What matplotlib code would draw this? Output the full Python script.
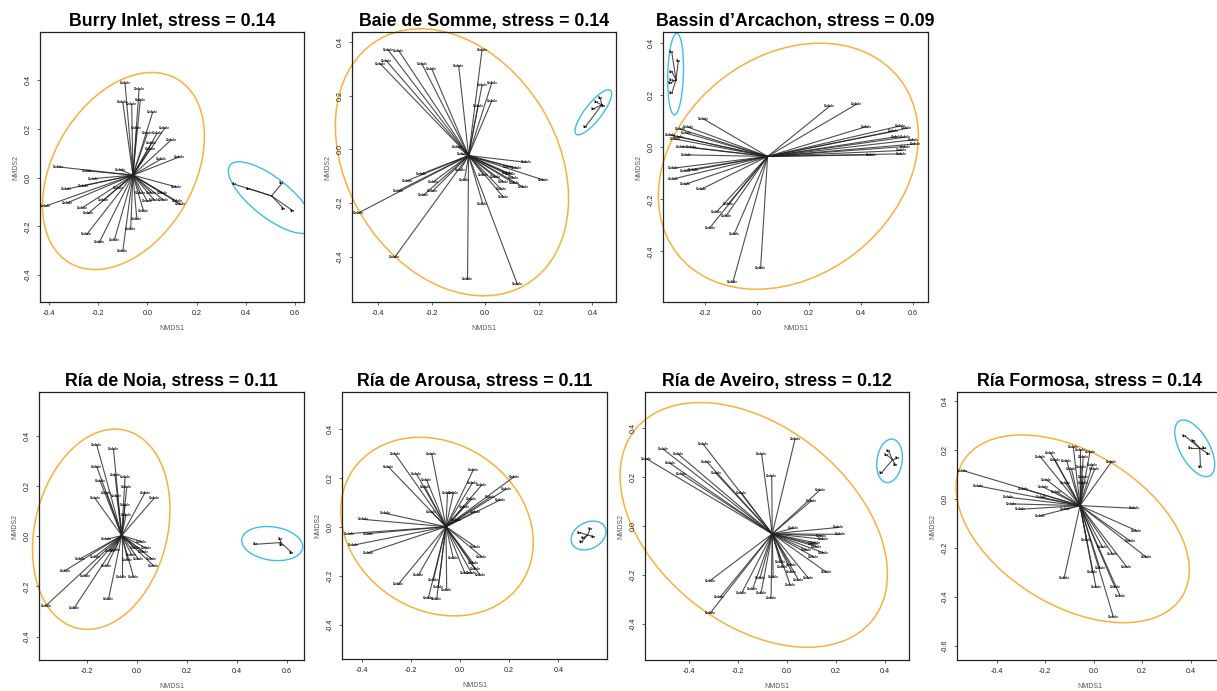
import numpy as np
import matplotlib
matplotlib.use("Agg")
import matplotlib.pyplot as plt
from matplotlib.patches import Ellipse
from matplotlib.ticker import FormatStrFormatter

plt.rcParams['font.family'] = ['Liberation Sans', 'DejaVu Sans']
plt.rcParams['axes.unicode_minus'] = False

titles = ["Burry Inlet, stress = 0.14", "Baie de Somme, stress = 0.14",
          "Bassin d\u2019Arcachon, stress = 0.09", "R\u00eda de Noia, stress = 0.11",
          "R\u00eda de Arousa, stress = 0.11", "R\u00eda de Aveiro, stress = 0.12",
          "R\u00eda Formosa, stress = 0.14"]
ced_label = "Cedule"
scr_label = "Scr"

# NMDS site scores, cockle group (orange)
ced_burry = [(-0.091, 0.386), (-0.034, 0.362), (-0.100, 0.308), (-0.064, 0.300), (-0.029, 0.318),
             (0.021, 0.267), (-0.043, 0.204), (0.071, 0.204), (0.0, 0.181), (0.039, 0.181),
             (0.096, 0.154), (0.018, 0.143), (0.011, 0.117), (0.056, 0.076), (0.130, 0.085),
             (-0.363, 0.044), (-0.245, 0.028), (-0.220, -0.004), (-0.111, 0.033), (-0.329, -0.047),
             (-0.261, -0.034), (-0.415, -0.117), (-0.325, -0.103), (-0.264, -0.123), (-0.179, -0.092),
             (-0.241, -0.147), (-0.118, -0.042), (-0.247, -0.233), (-0.196, -0.266), (-0.134, -0.254),
             (-0.100, -0.300), (-0.068, -0.210), (-0.043, -0.170), (-0.016, -0.136), (0.0, -0.097),
             (-0.029, -0.065), (0.116, -0.038), (0.059, -0.062), (0.065, -0.092), (0.016, -0.062),
             (0.120, -0.097), (0.134, -0.110), (0.028, -0.092)]
ced_somme = [(-0.363, 0.371), (-0.323, 0.368), (-0.369, 0.330), (-0.391, 0.318), (-0.236, 0.318),
             (-0.199, 0.299), (-0.099, 0.312), (-0.012, 0.369), (-0.012, 0.238), (0.025, 0.249),
             (0.025, 0.182), (-0.027, 0.162), (-0.102, 0.010), (-0.087, -0.018), (-0.238, -0.091),
             (-0.292, -0.117), (-0.323, -0.153), (-0.193, -0.120), (-0.196, -0.155), (-0.230, -0.170),
             (-0.472, -0.236), (-0.093, -0.076), (-0.077, -0.113), (-0.338, -0.402), (-0.066, -0.484),
             (0.120, -0.502), (-0.009, -0.203), (0.153, -0.048), (0.217, -0.114), (0.143, -0.141),
             (0.108, -0.126), (0.087, -0.064), (0.118, -0.070), (0.093, -0.091), (0.106, -0.105),
             (0.066, -0.120), (0.060, -0.149), (0.068, -0.178), (0.037, -0.104), (-0.006, -0.095),
             (0.081, -0.089)]
ced_arcachon = [(-0.206, 0.109), (-0.264, 0.077), (-0.296, 0.070), (-0.335, 0.048), (-0.303, 0.041),
                (-0.271, 0.054), (-0.316, 0.032), (-0.290, 0.003), (-0.251, 0.0), (-0.271, -0.029),
                (-0.322, -0.080), (-0.277, -0.089), (-0.245, -0.087), (-0.322, -0.121), (-0.277, -0.142),
                (-0.215, -0.161), (-0.110, -0.217), (-0.155, -0.247), (-0.119, -0.263), (-0.181, -0.308),
                (-0.088, -0.334), (0.014, -0.464), (-0.093, -0.519), (0.279, 0.157), (0.384, 0.166),
                (0.423, 0.080), (0.551, 0.082), (0.525, 0.061), (0.538, 0.041), (0.570, 0.039),
                (0.602, 0.029), (0.609, 0.013), (0.570, 0.003), (0.557, -0.012), (0.557, -0.025),
                (0.442, -0.029), (0.577, 0.073)]
ced_noia = [(-0.160, 0.364), (-0.093, 0.347), (-0.160, 0.278), (-0.087, 0.245), (-0.047, 0.235),
            (-0.147, 0.221), (-0.040, 0.195), (-0.120, 0.174), (-0.080, 0.161), (-0.167, 0.151),
            (0.033, 0.174), (0.069, 0.151), (-0.047, 0.125), (-0.043, 0.085), (-0.120, -0.012),
            (-0.227, -0.090), (-0.167, -0.081), (-0.287, -0.137), (-0.207, -0.158), (-0.363, -0.276),
            (-0.251, -0.287), (-0.113, -0.251), (-0.120, -0.117), (-0.107, -0.058), (-0.060, -0.161),
            (-0.013, -0.161), (-0.036, -0.094), (0.020, -0.021), (-0.007, -0.048), (0.027, -0.061),
            (-0.020, -0.074), (0.060, -0.090), (0.067, -0.117), (0.007, -0.092), (0.040, -0.048),
            (-0.087, -0.054)]
ced_arousa = [(-0.264, 0.298), (-0.292, 0.246), (-0.115, 0.298), (-0.176, 0.215), (-0.136, 0.192),
              (-0.142, 0.162), (-0.115, 0.060), (0.054, 0.233), (0.051, 0.181), (0.088, 0.171),
              (0.220, 0.205), (0.187, 0.154), (-0.027, 0.139), (-0.051, 0.139), (0.047, 0.113),
              (0.122, 0.121), (0.163, 0.110), (0.016, 0.083), (0.061, 0.063), (-0.013, 0.028),
              (-0.305, 0.056), (-0.393, 0.031), (-0.450, -0.027), (-0.373, -0.027), (-0.434, -0.074),
              (-0.373, -0.105), (-0.169, -0.196), (-0.251, -0.234), (-0.108, -0.216), (-0.088, -0.244),
              (-0.054, -0.257), (-0.129, -0.291), (-0.095, -0.295), (-0.027, -0.128), (0.061, -0.080),
              (0.088, -0.121), (0.054, -0.148), (0.020, -0.189), (0.047, -0.189), (0.081, -0.196),
              (0.061, -0.173)]
ced_aveiro = [(-0.506, 0.314), (-0.574, 0.275), (-0.445, 0.294), (-0.479, 0.257), (-0.431, 0.212),
              (-0.343, 0.335), (-0.329, 0.264), (-0.291, 0.216), (-0.186, 0.135), (-0.104, 0.294),
              (-0.063, 0.205), (0.032, 0.355), (0.134, 0.148), (0.100, 0.105), (0.025, -0.008),
              (0.209, -0.005), (0.216, -0.033), (0.141, -0.039), (0.148, -0.053), (0.114, -0.067),
              (0.107, -0.073), (0.121, -0.083), (0.080, -0.097), (0.148, -0.108), (0.107, -0.124),
              (0.161, -0.188), (0.087, -0.212), (-0.315, -0.222), (-0.275, -0.290), (-0.315, -0.355),
              (-0.186, -0.273), (-0.141, -0.256), (-0.111, -0.212), (-0.107, -0.273), (-0.066, -0.294),
              (-0.057, -0.209), (-0.029, -0.144), (-0.018, -0.165), (0.018, -0.185), (0.012, -0.239),
              (0.046, -0.219), (0.018, -0.158)]
ced_formosa = [(-0.177, 0.185), (-0.221, 0.172), (-0.159, 0.158), (-0.111, 0.155), (-0.084, 0.212),
               (-0.054, 0.199), (-0.015, 0.191), (-0.043, 0.172), (-0.091, 0.120), (-0.051, 0.128),
               (-0.005, 0.138), (0.004, 0.120), (-0.043, 0.090), (0.074, 0.151), (-0.043, 0.063),
               (-0.540, 0.115), (-0.476, 0.052), (-0.290, 0.040), (-0.194, 0.077), (-0.207, 0.047),
               (-0.115, 0.063), (-0.152, 0.026), (-0.352, 0.006), (-0.214, 0.006), (-0.338, -0.021),
               (-0.304, -0.043), (-0.221, -0.069), (-0.118, -0.042), (0.170, -0.039), (0.177, -0.130),
               (0.150, -0.171), (0.219, -0.239), (0.136, -0.277), (0.078, -0.225), (0.037, -0.198),
               (-0.029, -0.168), (-0.122, -0.324), (-0.004, -0.300), (0.026, -0.283), (0.010, -0.361),
               (0.088, -0.361), (0.109, -0.395), (0.081, -0.480)]

# NMDS site scores, second group (blue)
scr_burry = [(0.356, -0.028), (0.413, -0.045), (0.547, -0.024), (0.554, -0.127), (0.592, -0.136)]
scr_somme = [(0.429, 0.191), (0.416, 0.175), (0.404, 0.151), (0.373, 0.083), (0.441, 0.162)]
scr_arcachon = [(-0.328, 0.365), (-0.303, 0.330), (-0.328, 0.291), (-0.328, 0.259), (-0.328, 0.208),
                (-0.335, 0.246)]
scr_noia = [(0.473, -0.032), (0.573, -0.011), (0.577, -0.035), (0.620, -0.065)]
scr_arousa = [(0.529, -0.008), (0.488, -0.023), (0.501, -0.044), (0.495, -0.060), (0.542, -0.039)]
scr_aveiro = [(0.414, 0.307), (0.407, 0.291), (0.450, 0.278), (0.443, 0.250), (0.386, 0.219)]
scr_formosa = [(0.377, 0.256), (0.411, 0.237), (0.400, 0.206), (0.473, 0.183), (0.441, 0.131),
               (0.459, 0.206)]

ced_sets = [ced_burry, ced_somme, ced_arcachon, ced_noia, ced_arousa, ced_aveiro, ced_formosa]
scr_sets = [scr_burry, scr_somme, scr_arcachon, scr_noia, scr_arousa, scr_aveiro, scr_formosa]

# group centroids (spider centres)
ced_cent = [(-0.059, 0.010), (-0.062, -0.023), (0.041, -0.035), (-0.060, 0.003),
            (-0.057, 0.001), (-0.061, -0.031), (-0.056, -0.028)]
scr_cent = [(0.505, -0.075), (0.435, 0.166), (-0.312, 0.259), (0.576, -0.025),
            (0.519, -0.033), (0.431, 0.271), (0.438, 0.206)]

# ellipse extents: xmin, xmax, ymin, ymax, x of topmost point
orange_box = [(-0.427, 0.232, -0.377, 0.431, 0.018), (-0.559, 0.311, -0.545, 0.449, -0.242),
              (-0.380, 0.622, -0.545, 0.400, 0.243), (-0.417, 0.133, -0.371, 0.427, -0.087),
              (-0.485, 0.298, -0.363, 0.366, -0.163), (-0.683, 0.410, -0.494, 0.505, -0.356),
              (-0.568, 0.395, -0.505, 0.260, -0.297)]
blue_box = [(0.329, 0.675, -0.229, 0.065, 0.373), (0.335, 0.472, 0.054, 0.222, 0.460),
            (-0.344, -0.283, 0.125, 0.438, -0.309), (0.420, 0.664, -0.097, 0.039, 0.520),
            (0.452, 0.594, -0.094, 0.024, 0.542), (0.366, 0.471, 0.178, 0.356, 0.427),
            (0.335, 0.500, 0.090, 0.321, 0.370)]

xlims = [(-0.437, 0.637), (-0.497, 0.488), (-0.362, 0.659), (-0.391, 0.669),
         (-0.48, 0.598), (-0.581, 0.498), (-0.564, 0.53)]
ylims = [(-0.51, 0.597), (-0.568, 0.437), (-0.594, 0.443), (-0.493, 0.575),
         (-0.539, 0.551), (-0.546, 0.548), (-0.657, 0.435)]
xticks = [(-0.4, 0.6), (-0.4, 0.4), (-0.2, 0.6), (-0.2, 0.6), (-0.4, 0.4), (-0.4, 0.4), (-0.4, 0.4)]
yticks = [(-0.4, 0.4), (-0.4, 0.4), (-0.4, 0.4), (-0.4, 0.4), (-0.4, 0.4), (-0.4, 0.4), (-0.6, 0.4)]

# panel boxes in pixels: left, top, right, bottom
W, H = 1217, 691
boxes = [(40, 32, 304, 302), (352, 32, 616, 302), (663, 32, 928, 302),
         (39, 392, 304, 660), (342, 392, 607, 659), (645, 392, 909, 660), (957, 392, 1222, 660)]


def bbox_ellipse(x0, x1, y0, y1, xtop, **kw):
    cx, cy = (x0 + x1) / 2, (y0 + y1) / 2
    hw, hh = (x1 - x0) / 2, (y1 - y0) / 2
    P = hh ** 2 - hw ** 2
    Q = 2 * (xtop - cx) * hh
    D = np.hypot(P, Q)
    th = 0.5 * np.arctan2(Q, -P)
    a = np.sqrt((hw ** 2 + hh ** 2 + D) / 2)
    b = np.sqrt(max((hw ** 2 + hh ** 2 - D) / 2, 1e-6))
    return Ellipse((cx, cy), 2 * a, 2 * b, angle=np.degrees(th), fill=False, **kw)


fig = plt.figure(figsize=(W / 100, H / 100), dpi=100)

for i in range(7):
    l, t, r, b = boxes[i]
    ax = fig.add_axes([l / W, 1 - b / H, (r - l) / W, (b - t) / H])

    for pts, cen, lab in [(ced_sets[i], ced_cent[i], ced_label), (scr_sets[i], scr_cent[i], scr_label)]:
        for (px, py) in pts:
            ax.plot([cen[0], px], [cen[1], py], color='#222222', lw=0.8, alpha=0.8)
            ax.text(px, py, lab, fontsize=2.3, fontweight='bold', ha='center', va='center')

    e1 = bbox_ellipse(*orange_box[i], edgecolor='#FBB03B', lw=1.1, clip_on=False)
    e2 = bbox_ellipse(*blue_box[i], edgecolor='#3DBDEB', lw=1.0, clip_on=(i == 0))
    ax.add_patch(e1)
    ax.add_patch(e2)

    ax.set_xlim(*xlims[i])
    ax.set_ylim(*ylims[i])
    ax.set_xticks(np.arange(xticks[i][0], xticks[i][1] + 0.01, 0.2))
    ax.set_yticks(np.arange(yticks[i][0], yticks[i][1] + 0.01, 0.2))
    ax.xaxis.set_major_formatter(FormatStrFormatter('%.1f'))
    ax.yaxis.set_major_formatter(FormatStrFormatter('%.1f'))
    ax.tick_params(labelsize=5.2, length=2.5, width=0.5, colors='#222222')
    ax.tick_params(axis='x', pad=3)
    ax.tick_params(axis='y', pad=3.6)
    for lbl in ax.get_yticklabels():
        lbl.set_rotation(90)
        lbl.set_va('center')
    for s in ax.spines.values():
        s.set_linewidth(0.9)
        s.set_color('#222222')
    ax.set_xlabel('NMDS1', fontsize=5, color='#555566', labelpad=6)
    ax.set_ylabel('NMDS2', fontsize=5, color='#555566', labelpad=4)
    ax.set_title(titles[i], fontsize=12.8, fontweight='bold', pad=4)

fig.savefig('out.png', dpi=100)
